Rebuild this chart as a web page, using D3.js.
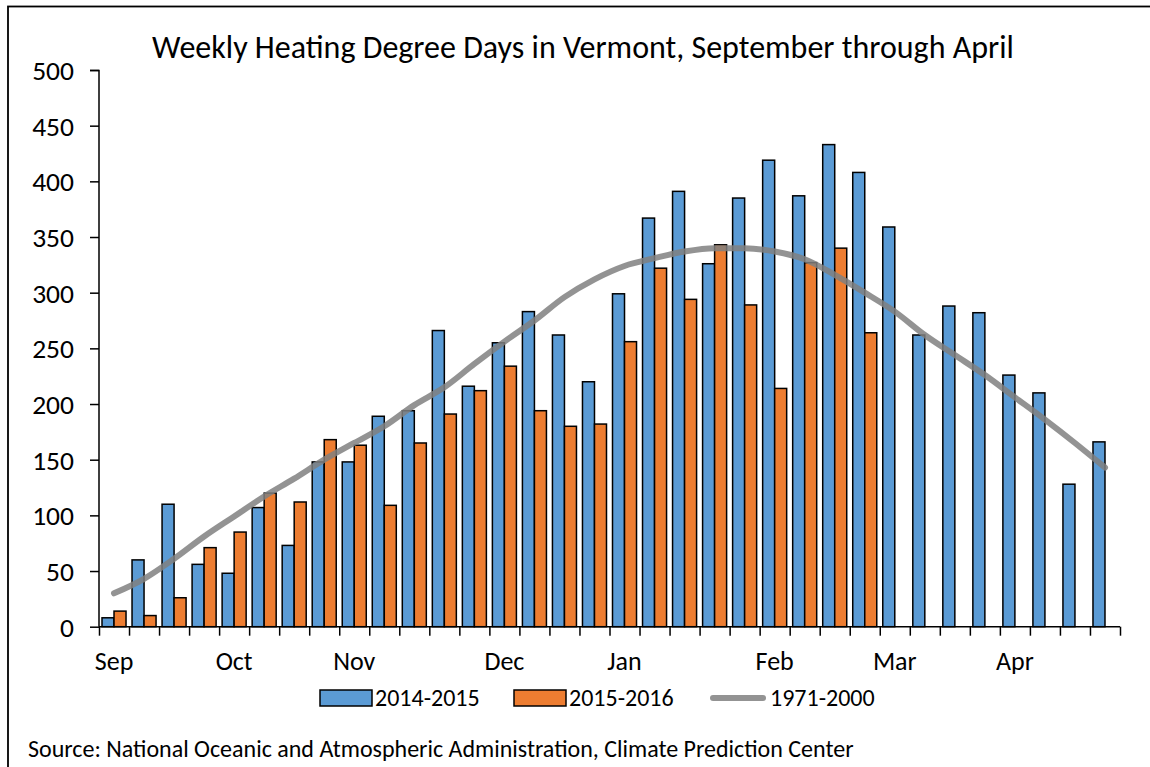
<!DOCTYPE html>
<html>
<head>
<meta charset="utf-8">
<script src="https://cdn.jsdelivr.net/npm/d3@7"></script>
<style>
  body { margin: 0; background: #fff; }
  svg text { font-family: Carlito, Lato, sans-serif; fill: #000; }
</style>
</head>
<body>
<svg id="chart" width="1150" height="767"></svg>
<script>
const width = 1150;
const height = 767;

// Weekly HDD values
const hdd2014 = [8, 60, 110, 56, 48, 107, 73, 148, 148, 189, 194, 266, 216, 255, 283, 262, 220,
  299, 367, 391, 326, 385, 419, 387, 433, 408, 359, 262, 288, 282, 226, 210, 128, 166];
const hdd2015 = [14, 10, 26, 71, 85, 120, 112, 168, 163, 109, 165, 191, 212, 234, 194, 180, 182,
  256, 322, 294, 343, 289, 214, 327, 340, 264];
const normal = [30, 43, 61, 81, 99, 117, 133, 150, 165, 180, 199, 215, 236, 256, 275, 296, 312,
  324, 331, 337, 340, 340, 337, 330, 316, 300, 283, 262, 244, 226, 206, 186, 165, 143];

const months = ["Sep", "Oct", "Nov", "Dec", "Jan", "Feb", "Mar", "Apr"];
const monthWeek = [0, 4, 8, 13, 17, 22, 26, 30];
const yTicks = [0, 50, 100, 150, 200, 250, 300, 350, 400, 450, 500];

const seriesNames = ["2014-2015", "2015-2016", "1971-2000"];
const colors = ["#5b9bd5", "#ed7d31", "#808080"];

const margin = { top: 70, right: 30, bottom: 140, left: 99 };
const plotW = 1120 - margin.left;
const plotH = 626.7 - margin.top;

const svg = d3.select("#chart");

// outer frame (runs past the right and bottom edges)
svg.append("rect")
  .attr("x", 8).attr("y", 6.5)
  .attr("width", 1160).attr("height", 800)
  .attr("fill", "none").attr("stroke", "#000").attr("stroke-width", 1.8);

svg.append("text")
  .attr("x", 583).attr("y", 58)
  .attr("text-anchor", "middle")
  .attr("font-size", "32px")
  .text("Weekly Heating Degree Days in Vermont, September through April");

const g = svg.append("g").attr("transform", `translate(${margin.left},${margin.top})`);

const weeks = normal.map((d, i) => i);

const x = d3.scaleBand()
  .domain(weeks)
  .range([0, plotW])
  .paddingInner(0.2)
  .paddingOuter(0.1);

const xSub = d3.scaleBand()
  .domain([0, 1])
  .range([0, x.bandwidth()]);

const xEdge = d3.scaleLinear().domain([0, weeks.length]).range([0, plotW]);

const y = d3.scaleLinear().domain([0, 500]).range([plotH, 0]);

// bars
[hdd2014, hdd2015].forEach((series, s) => {
  g.append("g").selectAll("rect")
    .data(series)
    .enter().append("rect")
    .attr("x", (d, i) => x(i) + xSub(s))
    .attr("y", d => y(d))
    .attr("width", xSub.bandwidth())
    .attr("height", d => y(0) - y(d))
    .attr("fill", colors[s])
    .attr("stroke", "#000")
    .attr("stroke-width", 1.5);
});

// normal line
const line = d3.line()
  .x((d, i) => x(i) + x.bandwidth() / 2)
  .y(d => y(d))
  .curve(d3.curveMonotoneX);

g.append("path")
  .datum(normal)
  .attr("d", line)
  .attr("fill", "none")
  .attr("stroke", colors[2])
  .attr("stroke-opacity", 0.85)
  .attr("stroke-width", 6)
  .attr("stroke-linecap", "round");

// y axis
const yAxis = g.append("g")
  .call(d3.axisLeft(y).tickValues(yTicks).tickSize(9).tickPadding(16));
yAxis.selectAll("text").attr("font-size", "27.5px").attr("dy", "0.35em");
yAxis.selectAll("line, path").attr("stroke", "#000").attr("stroke-width", 1.5);
yAxis.select(".domain").attr("d", `M-9,0.5H0V${plotH}`);

// x axis, ticks between weeks
const xAxis = g.append("g")
  .attr("transform", `translate(0,${plotH})`)
  .call(d3.axisBottom(xEdge).tickValues(d3.range(weeks.length + 1)).tickSize(9).tickFormat(""));
xAxis.selectAll("line, path").attr("stroke", "#000").attr("stroke-width", 1.5);
xAxis.select(".domain").attr("d", `M0,0H${plotW}`);

g.append("g").selectAll("text")
  .data(months)
  .enter().append("text")
  .attr("x", (d, i) => x(monthWeek[i]) + x.bandwidth() / 2)
  .attr("y", plotH + 43)
  .attr("text-anchor", "middle")
  .attr("font-size", "26px")
  .text(d => d);

// legend
const legendPos = [320, 514, 710];
const legend = svg.append("g").selectAll("g")
  .data(seriesNames)
  .enter().append("g")
  .attr("transform", (d, i) => `translate(${legendPos[i]},698)`);

legend.filter((d, i) => i < 2).append("rect")
  .attr("x", 0).attr("y", -8)
  .attr("width", 52).attr("height", 16)
  .attr("fill", (d, i) => colors[i])
  .attr("stroke", "#000")
  .attr("stroke-width", 1.5);

legend.filter((d, i) => i === 2).append("line")
  .attr("x1", 3).attr("x2", 53)
  .attr("stroke", colors[2])
  .attr("stroke-opacity", 0.85)
  .attr("stroke-width", 6)
  .attr("stroke-linecap", "round");

legend.append("text")
  .attr("x", (d, i) => i === 2 ? 60 : 55)
  .attr("y", 8)
  .attr("font-size", "24px")
  .text(d => d);

svg.append("text")
  .attr("x", 28).attr("y", 757)
  .attr("font-size", "24px")
  .text("Source: National Oceanic and Atmospheric Administration, Climate Prediction Center");
</script>
</body>
</html>
